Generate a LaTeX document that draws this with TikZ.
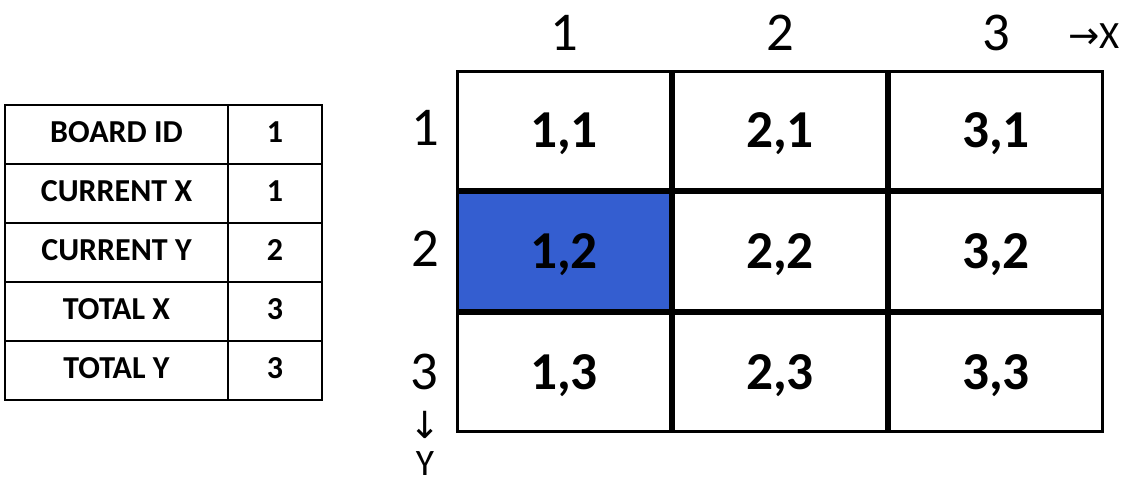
\documentclass[tikz,border=0pt]{standalone}
\usepackage{fontspec}
\setmainfont{Carlito}
\newfontfamily\symfont{DejaVu Sans}
\definecolor{cellblue}{RGB}{52,94,208}
\tikzset{
  cellbox/.style={draw, line width=2.25pt, minimum width=159.75pt, minimum height=88.5pt,
    inner sep=0pt, text depth=0pt, font=\bfseries\fontsize{40}{44}\selectfont},
  tabkey/.style={draw, line width=1.9pt, minimum width=167.25pt, minimum height=44.25pt,
    inner sep=0pt, text depth=0pt, font=\bfseries\fontsize{24}{28}\selectfont},
  tabval/.style={tabkey, minimum width=70.5pt},
  axislabel/.style={anchor=base, inner sep=0pt, font=\fontsize{41}{44}\selectfont},
}
\begin{document}
\begin{tikzpicture}[x=0.75pt, y=-0.75pt]
        \useasboundingbox (0,0) rectangle (1135,483);
        % Table (board state)
        \node[tabkey] (boardid) at (116.5,134.5) {\raisebox{4pt}{BOARD ID}};
        \node[tabkey] (curx) at (116.5,193.5) {\raisebox{4pt}{CURRENT X}};
        \node[tabkey] (cury) at (116.5,252.5) {\raisebox{4pt}{CURRENT Y}};
        \node[tabkey] (totx) at (116.5,311.5) {\raisebox{4pt}{TOTAL X}};
        \node[tabkey] (toty) at (116.5,370.5) {\raisebox{4pt}{TOTAL Y}};
        \node[tabval] (boardidval) at (275,134.5) {\raisebox{4pt}{1}};
        \node[tabval] (curxval) at (275,193.5) {\raisebox{4pt}{1}};
        \node[tabval] (curyval) at (275,252.5) {\raisebox{4pt}{2}};
        \node[tabval] (totxval) at (275,311.5) {\raisebox{4pt}{3}};
        \node[tabval] (totyval) at (275,370.5) {\raisebox{4pt}{3}};

        % Board cells (x,y)
        \node[cellbox] (c11) at (564,130.5) {1,1};
        \node[cellbox] (c21) at (780,130.5) {2,1};
        \node[cellbox] (c31) at (996,130.5) {3,1};
        \node[cellbox, fill=cellblue] (c12) at (564,251.5) {1,2};
        \node[cellbox] (c22) at (780,251.5) {2,2};
        \node[cellbox] (c32) at (996,251.5) {3,2};
        \node[cellbox] (c13) at (564,372.5) {1,3};
        \node[cellbox] (c23) at (780,372.5) {2,3};
        \node[cellbox] (c33) at (996,372.5) {3,3};

        % Axis labels
        \node[axislabel] (colone) at (564,50) {1};
        \node[axislabel] (coltwo) at (780,50) {2};
        \node[axislabel] (colthree) at (996,50) {3};
        \node[axislabel] (rowone) at (425,145) {1};
        \node[axislabel] (rowtwo) at (425,266) {2};
        \node[axislabel] (rowthree) at (424,389) {3};
        \node[anchor=base west, inner sep=0pt, font=\fontsize{29}{32}\selectfont] (xaxis) at (1068,48)
          {{\symfont\fontsize{28}{32}\selectfont →}X};
        \node[anchor=center, inner sep=0pt, font=\symfont\fontsize{28}{32}\selectfont] (ydown) at (425,425) {↓};
        \node[anchor=base, inner sep=0pt, font=\fontsize{28}{32}\selectfont] (yaxis) at (425,475) {Y};
    \end{tikzpicture}
\end{document}
